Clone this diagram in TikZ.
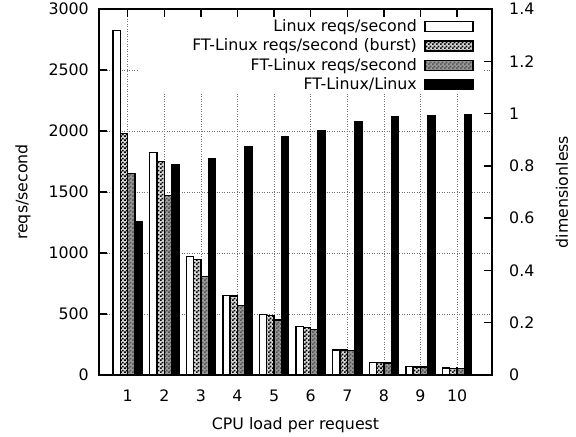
\documentclass[tikz,border=0pt]{standalone}
\usepackage{fontspec}
\setmainfont{DejaVu Sans}
\usetikzlibrary{patterns}
\pgfdeclarepatternformonly{chk}{\pgfpointorigin}{\pgfqpoint{4bp}{4bp}}{\pgfqpoint{4bp}{4bp}}{%
 \pgfpathrectangle{\pgfpointorigin}{\pgfqpoint{2bp}{2bp}}%
 \pgfpathrectangle{\pgfqpoint{2bp}{2bp}}{\pgfqpoint{2bp}{2bp}}%
 \pgfusepath{fill}}
\tikzset{
 frame/.style={line width=1.8bp},
 gridl/.style={black!55, line width=0.8bp, dash pattern=on 1bp off 1.5bp},
 tk/.style={line width=1.4bp},
 barA/.style={draw, line width=1.4bp, fill=white},
 barB/.style={draw, line width=1.4bp, preaction={fill=black!15}, pattern=chk, pattern color=black},
 barC/.style={draw, line width=1.4bp, preaction={fill=black!40}, pattern=chk, pattern color=black!68},
 barD/.style={draw, line width=1.4bp, fill=black},
 lbl/.style={font=\fontsize{15.8bp}{18bp}\selectfont, inner sep=0pt},
}
\begin{document}
\begin{tikzpicture}[x=1bp, y=-1bp]
\useasboundingbox[fill=white] (0,0) rectangle (576,437);
% grid
\foreach \v in {500,1000,1500,2000,2500}{
  \pgfmathsetmacro\yy{375-\v*0.122}
  \draw[gridl] (99,\yy) -- (492,\yy);
}
\foreach \k in {1,...,10}{
  \pgfmathsetmacro\xc{127.7+(\k-1)*36.6}
  \draw[gridl] (\xc,9) -- (\xc,375);
}
% legend background
\fill[white] (138,9) rectangle (483,93);
% bars
\foreach \k/\a/\b/\c/\r in {1/2822/1981/1650/0.585, 2/1825/1748/1470/0.805, 3/973/948/806/0.828, 4/653/647/571/0.874, 5/497/489/451/0.912, 6/396/391/374/0.935, 7/205/205/199/0.968, 8/101/101/100/0.987, 9/68/67/67/0.993, 10/57/55/54/0.995}{
  \pgfmathsetmacro\xc{127.7+(\k-1)*36.6}
  \pgfmathsetmacro\ya{375-\a*0.122}
  \pgfmathsetmacro\yb{375-\b*0.122}
  \pgfmathsetmacro\yc{375-\c*0.122}
  \pgfmathsetmacro\yr{375-\r*261.43}
  \draw[barA] (\xc-14.64,375) rectangle (\xc-7.32,\ya);
  \draw[barB] (\xc-7.32,375) rectangle (\xc,\yb);
  \draw[barC] (\xc,375) rectangle (\xc+7.32,\yc);
  \draw[barD] (\xc+7.32,375) rectangle (\xc+14.64,\yr);
}
% frame
\draw[frame] (99,9) rectangle (492,375);
% ticks and labels
\foreach \v in {0,500,1000,1500,2000,2500,3000}{
  \pgfmathsetmacro\yy{375-\v*0.122}
  \draw[tk] (99,\yy) -- (107,\yy);
  \node[lbl, anchor=east] (yl\v) at (89,\yy) {\v};
}
\foreach \r/\t [count=\i] in {0/0,0.2/0.2,0.4/0.4,0.6/0.6,0.8/0.8,1/1,1.2/1.2,1.4/1.4}{
  \pgfmathsetmacro\yy{375-\r*261.43}
  \draw[tk] (492,\yy) -- (484,\yy);
  \node[lbl, anchor=west] (yr\i) at (509,\yy) {\t};
}
\foreach \k in {1,...,10}{
  \pgfmathsetmacro\xc{127.7+(\k-1)*36.6}
  \draw[tk] (\xc,9) -- (\xc,17);
  \draw[tk] (\xc,375) -- (\xc,367);
  \node[lbl] (xl\k) at (\xc,396) {\k};
}
\node[lbl, rotate=90] (ylab) at (23,192) {reqs/second};
\node[lbl, rotate=90] (y2lab) at (562,192) {dimensionless};
\node[lbl, anchor=base] (xlab) at (295.5,429) {CPU load per request};
% legend
\node[lbl, anchor=base east] (k1) at (417,31.7) {Linux reqs/second};
\node[lbl, anchor=base east] (k2) at (417,51) {FT-Linux reqs/second (burst)};
\node[lbl, anchor=base east] (k3) at (417,70.3) {FT-Linux reqs/second};
\node[lbl, anchor=base east] (k4) at (417,89.6) {FT-Linux/Linux};
\draw[barA] (425,21.7) rectangle (473,31.7);
\draw[barB] (425,41) rectangle (473,51);
\draw[barC] (425,60.3) rectangle (473,70.3);
\draw[barD] (425,79.6) rectangle (473,89.6);
\end{tikzpicture}
\end{document}
